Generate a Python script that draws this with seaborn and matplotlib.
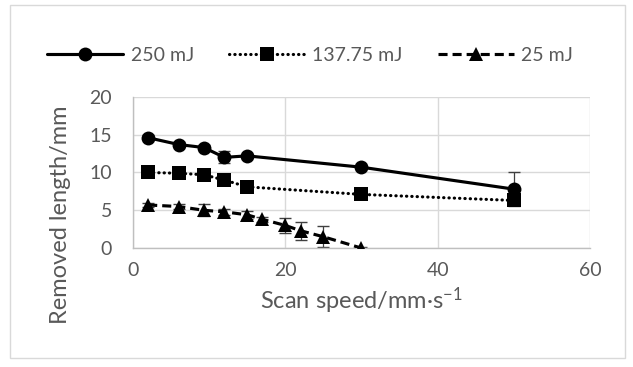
import matplotlib
matplotlib.use("Agg")
import matplotlib.pyplot as plt
import seaborn as sns
import pandas as pd
from matplotlib.patches import Rectangle

# data
speed_hi = [2, 6, 9.3, 12, 15, 30, 50]
len_250 = [14.6, 13.7, 13.3, 12.0, 12.2, 10.7, 7.8]
err_250 = [0.3, 0.3, 0.3, 0.8, 0.3, 0.3, 2.2]
len_137 = [10.0, 9.9, 9.7, 9.0, 8.1, 7.1, 6.3]
err_137 = [0.3, 0.3, 0.3, 0.5, 0.5, 0.3, 0.3]

speed_lo = [2, 6, 9.3, 12, 15, 17, 20, 22, 25, 30]
len_25 = [5.7, 5.5, 5.0, 4.8, 4.4, 3.8, 3.0, 2.3, 1.5, 0.0]
err_25 = [0.3, 0.3, 0.8, 0.4, 0.5, 0.3, 1.0, 1.2, 1.4, 0.1]

labels = ["250 mJ", "137.75 mJ", "25 mJ"]
x_ticks = [0, 20, 40, 60]
y_ticks = [0, 5, 10, 15, 20]

sns.set_style("white")
plt.rcParams['font.family'] = ['Lato', 'DejaVu Sans']
plt.rcParams['mathtext.fontset'] = 'custom'
plt.rcParams['mathtext.rm'] = 'Lato'
plt.rcParams['mathtext.it'] = 'Lato'
text_col = '#595959'
grid_col = '#d9d9d9'

fig = plt.figure(figsize=(6.33, 3.67), dpi=100)
ax = fig.add_axes([0.210, 0.324, 0.722, 0.412])

df_hi = pd.DataFrame({'x': speed_hi, 'a': len_250, 'b': len_137})
df_lo = pd.DataFrame({'x': speed_lo, 'c': len_25})

# error bars first so markers sit on top
ax.errorbar(speed_hi, len_250, yerr=err_250, fmt='none', ecolor='#404040', elinewidth=0.9, capsize=4, zorder=2)
ax.errorbar(speed_hi, len_137, yerr=err_137, fmt='none', ecolor='#404040', elinewidth=0.9, capsize=4, zorder=2)
ax.errorbar(speed_lo, len_25, yerr=err_25, fmt='none', ecolor='#404040', elinewidth=0.9, capsize=4, zorder=2)

sns.lineplot(data=df_hi, x='x', y='a', ax=ax, color='black', lw=2.25, marker='o', markersize=10,
             markeredgewidth=0, label=labels[0], zorder=3)
sns.lineplot(data=df_hi, x='x', y='b', ax=ax, color='black', lw=2.25, marker='s', markersize=10,
             markeredgewidth=0, linestyle=(0, (0.1, 1.6)), dash_capstyle='round', label=labels[1], zorder=3)
sns.lineplot(data=df_lo, x='x', y='c', ax=ax, color='black', lw=2.25, marker='^', markersize=10,
             markeredgewidth=0, linestyle=(0, (2.9, 1.6)), label=labels[2], zorder=3)

ax.set_xlim(0, 60)
ax.set_ylim(0, 20)
ax.set_xticks(x_ticks)
ax.set_yticks(y_ticks)
ax.grid(True, color=grid_col, lw=1)
ax.set_axisbelow(True)
for s in ['top', 'right']:
    ax.spines[s].set_visible(False)
for s in ['left', 'bottom']:
    ax.spines[s].set_color('#bfbfbf')
    ax.spines[s].set_linewidth(1)
ax.tick_params(axis='both', length=0, labelsize=14, colors=text_col)
ax.tick_params(axis='y', pad=15)
ax.tick_params(axis='x', pad=10)

ax.set_xlabel(r"Scan speed/mm·s$^{-1}$", fontsize=17, color=text_col, labelpad=5)
ax.set_ylabel("Removed length/mm", fontsize=17, color=text_col, va='center')
ax.yaxis.set_label_coords(-0.158, 0.22)

ax.legend_.remove()
h, l = ax.get_legend_handles_labels()
fig.legend(h, l, loc='center', bbox_to_anchor=(0.49, 0.85), ncol=3, frameon=False,
           fontsize=14, labelcolor=text_col, handlelength=3.9, columnspacing=1.8, handletextpad=0.4)

fig.patches.append(Rectangle((10 / 633, 1 - 358 / 367), 615 / 633, 353 / 367, transform=fig.transFigure,
                             fill=False, edgecolor=grid_col, lw=1))

fig.savefig('out.png', dpi=100)
